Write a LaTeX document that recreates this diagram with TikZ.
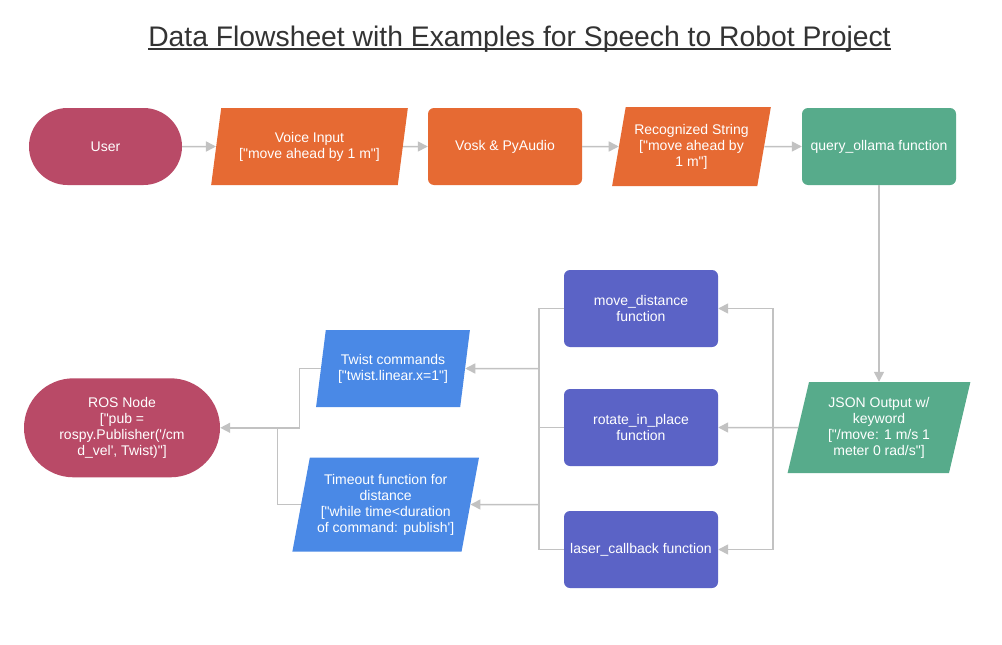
\documentclass[tikz,border=0pt]{standalone}
\usepackage{fontspec}
\newfontfamily\flowfont{Liberation Sans}
\usetikzlibrary{arrows.meta,positioning,shapes.geometric}
\definecolor{userred}{HTML}{B94A67}
\definecolor{voiceorange}{HTML}{E66A33}
\definecolor{llmgreen}{HTML}{57AB8B}
\definecolor{cmdblue}{HTML}{4A89E6}
\definecolor{funcpurple}{HTML}{5B63C6}
\definecolor{linegray}{HTML}{C2C2C2}
\definecolor{titlegray}{HTML}{333333}

\begin{document}
\begin{tikzpicture}[x=1pt,y=-1pt,
  font=\flowfont\fontsize{14}{16}\selectfont,
  box/.style={text=white,align=center,inner sep=2pt},
  term/.style={box,rectangle,fill=userred},
  proc/.style={box,rectangle,rounded corners=6pt,minimum width=154pt,minimum height=77pt},
  io/.style={box,trapezium,trapezium left angle=76,trapezium right angle=104,trapezium stretches=true},
  conn/.style={draw=linegray,line width=1.5pt},
  arr/.style={conn,-{Triangle[length=10pt,width=10pt]}}]
  \useasboundingbox[fill=white] (0,0) rectangle (1002,645);
  \node[inner sep=0pt,anchor=base,text=titlegray,font=\flowfont\fontsize{28.3}{32}\selectfont] (title) at (519.5,46) {Data Flowsheet with Examples for Speech to Robot Project};
  \draw[titlegray,line width=1.8pt] ([yshift=-3pt]title.base west) -- ([yshift=-3pt]title.base east);

  % speech part
  \node[term,minimum width=153pt,minimum height=77pt,rounded corners=38.5pt] (user) at (105.5,146.5) {User};
  \node[io,fill=voiceorange,minimum width=197pt,minimum height=77pt] (voice) at (309.5,146.5) {Voice Input\\{}["move ahead by 1 m"]};
  \node[proc,fill=voiceorange] (vosk) at (505,146.5) {Vosk \& PyAudio};
  \node[io,fill=voiceorange,minimum width=159pt,minimum height=79pt] (recog) at (691.5,146.5) {Recognized String\\{}["move ahead by\\1 m"]};
  \node[proc,fill=llmgreen] (ollama) at (879,146.5) {query\_ollama function};
  \node[io,fill=llmgreen,minimum width=183pt,minimum height=91pt] (json) at (879,427.5) {JSON Output w/\\keyword\\{}["/move: 1 m/s 1\\meter 0 rad/s"]};

  % robot part
  \node[proc,fill=funcpurple] (move) at (641,308.5) {move\_distance\\function};
  \node[proc,fill=funcpurple] (rotate) at (641,427.5) {rotate\_in\_place\\function};
  \node[proc,fill=funcpurple] (laser) at (641,549.5) {laser\_callback function};
  \node[io,fill=cmdblue,minimum width=154pt,minimum height=77pt] (twist) at (393,368.5) {Twist commands\\{}["twist.linear.x=1"]};
  \node[io,fill=cmdblue,minimum width=187pt,minimum height=94pt] (timeout) at (385.7,504.5) {Timeout function for\\distance\\{}["while time<duration\\of command: publish']};
  \node[term,minimum width=196pt,minimum height=99pt,rounded corners=49.5pt] (ros) at (122,427.8) {ROS Node\\{}["pub =\\rospy.Publisher('/cm\\d\_vel', Twist)"]};

  \coordinate (jr) at (773,427.5);
  \coordinate (jl) at (539,427.5);
  \coordinate (jros) at (277.3,427.8);

  \draw[arr] (user) -- (voice);
  \draw[arr] (voice) -- (vosk);
  \draw[arr] (vosk) -- (recog);
  \draw[arr] (recog) -- (ollama);
  \draw[arr] (ollama) -- (json);
  \draw[arr] (json) -- (rotate);
  \draw[arr] (jr) |- (move);
  \draw[arr] (jr) |- (laser);
  \draw[conn] (move.west) -| (jl) |- (laser.west);
  \draw[conn] (rotate) -- (jl);
  \draw[arr] (jl |- twist) -- (twist);
  \draw[arr] (jl |- timeout) -- (timeout);
  \draw[arr] (twist.west) -- ++(-21,0) |- (ros);
  \draw[conn] (timeout.west) -| (jros);
\end{tikzpicture}
\end{document}
